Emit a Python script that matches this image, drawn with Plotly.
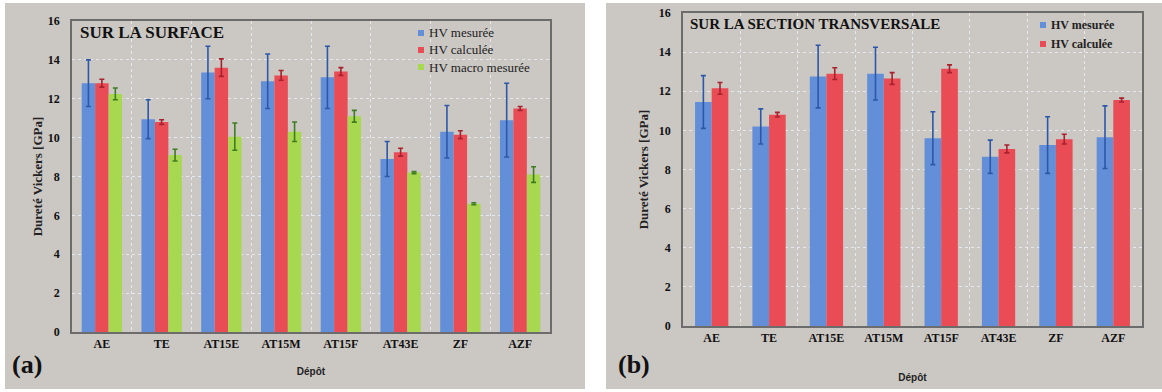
import plotly.graph_objects as go

W, H = 1162, 392

categories = ["AE", "TE", "AT15E", "AT15M", "AT15F", "AT43E", "ZF", "AZF"]

# Panel (a) : SUR LA SURFACE
a_hv_mesuree = [12.8, 10.95, 13.35, 12.9, 13.1, 8.9, 10.3, 10.9]
a_hv_mesuree_err = [1.2, 1.0, 1.35, 1.4, 1.6, 0.9, 1.35, 1.9]
a_hv_calculee = [12.8, 10.8, 13.6, 13.2, 13.4, 9.25, 10.15, 11.5]
a_hv_calculee_err = [0.2, 0.12, 0.45, 0.25, 0.2, 0.2, 0.2, 0.1]
a_hv_macro = [12.25, 9.1, 10.05, 10.3, 11.1, 8.2, 6.6, 8.1]
a_hv_macro_err = [0.3, 0.3, 0.7, 0.5, 0.3, 0.05, 0.05, 0.4]

# Panel (b) : SUR LA SECTION TRANSVERSALE
b_hv_mesuree = [11.45, 10.2, 12.75, 12.9, 9.6, 8.65, 9.25, 9.65]
b_hv_mesuree_err = [1.35, 0.9, 1.6, 1.35, 1.35, 0.85, 1.45, 1.6]
b_hv_calculee = [12.15, 10.8, 12.9, 12.65, 13.15, 9.05, 9.55, 11.55]
b_hv_calculee_err = [0.3, 0.12, 0.3, 0.3, 0.2, 0.2, 0.25, 0.1]

legend_a = ["HV mesurée", "HV calculée", "HV macro mesurée"]
legend_b = ["HV mesurée", "HV calculée"]

y_ticks = [0, 2, 4, 6, 8, 10, 12, 14, 16]

BLUE, RED, GREEN = "#628fd8", "#e94c55", "#a8d750"
EBLUE, ERED, EGREEN = "#2d58a8", "#a8222e", "#3f7d22"
SERIF = "Liberation Serif"


def px(x):
    return x / W


def py(y):
    return 1 - y / H


fig = go.Figure()


def bar(x, y, err, name, color, ecolor, xa, ya, width, offset):
    fig.add_trace(go.Bar(
        x=x, y=y, name=name, xaxis=xa, yaxis=ya, showlegend=False,
        width=width, offset=offset,
        marker=dict(color=color, line=dict(width=0)),
        error_y=dict(type="data", array=err, color=ecolor, thickness=1.6, width=2.5),
    ))


wa, wb = 0.225, 0.29
bar(categories, a_hv_mesuree, a_hv_mesuree_err, legend_a[0], BLUE, EBLUE, "x", "y", wa, -1.5 * wa)
bar(categories, a_hv_calculee, a_hv_calculee_err, legend_a[1], RED, ERED, "x", "y", wa, -0.5 * wa)
bar(categories, a_hv_macro, a_hv_macro_err, legend_a[2], GREEN, EGREEN, "x", "y", wa, 0.5 * wa)
bar(categories, b_hv_mesuree, b_hv_mesuree_err, legend_b[0], BLUE, EBLUE, "x2", "y2", wb, -wb)
bar(categories, b_hv_calculee, b_hv_calculee_err, legend_b[1], RED, ERED, "x2", "y2", wb, 0)

# plot areas (pixels)
A = dict(x0=72, x1=550, y0=21, y1=332)
B = dict(x0=683, x1=1142, y0=13, y1=326)

GRID = "#e4e8ef"
xcommon = dict(type="category", showline=True, mirror=True, linecolor="#6c6c6c", linewidth=1.6,
               ticks="", tickson="boundaries", showgrid=True, gridcolor=GRID, griddash="dot",
               automargin=False,
               tickfont=dict(family=SERIF, size=12, color="#111", weight="bold"), fixedrange=True)
ycommon = dict(range=[0, 16], tickvals=y_ticks, ticktext=[str(v) for v in y_ticks],
               showline=True, mirror=True, linecolor="#6c6c6c", linewidth=1.6, automargin=False,
               showgrid=True, gridcolor=GRID, griddash="dot", zeroline=False, ticks="",
               ticklabelstandoff=8,
               tickfont=dict(family=SERIF, size=12, color="#111", weight="bold"), fixedrange=True)

fig.update_layout(
    width=W, height=H, margin=dict(l=0, r=0, t=0, b=0, autoexpand=False),
    paper_bgcolor="white", plot_bgcolor="#fffdf6",
    barmode="group", showlegend=False,
    xaxis=dict(domain=[px(A["x0"]), px(A["x1"])], anchor="y", **xcommon,
               title=dict(text="<b>Dépôt</b>", font=dict(family="Liberation Sans", size=10, color="#222"), standoff=18)),
    yaxis=dict(domain=[py(A["y1"]), py(A["y0"])], anchor="x", **ycommon,
               title=dict(text="<b>Dureté Vickers [GPa]</b>", font=dict(family=SERIF, size=13, color="#222"), standoff=2)),
    xaxis2=dict(domain=[px(B["x0"]), px(B["x1"])], anchor="y2", **xcommon,
                title=dict(text="<b>Dépôt</b>", font=dict(family="Liberation Sans", size=10, color="#222"), standoff=30)),
    yaxis2=dict(domain=[py(B["y1"]), py(B["y0"])], anchor="x2", **ycommon,
                title=dict(text="<b>Dureté Vickers [GPa]</b>", font=dict(family=SERIF, size=13, color="#222"), standoff=7)),
)

# gray panel backgrounds
fig.add_shape(type="rect", xref="paper", yref="paper", x0=px(5), x1=px(585), y0=py(389), y1=py(3),
              fillcolor="#cbc7c3", line=dict(width=0), layer="below")
fig.add_shape(type="rect", xref="paper", yref="paper", x0=px(606), x1=px(1162), y0=py(389), y1=py(3),
              fillcolor="#cbc7c3", line=dict(width=0), layer="below")

# legends (small square swatches + text)
def legend(names, colors, x, y0, dy, size, bold):
    for i, (n, c) in enumerate(zip(names, colors)):
        yc = y0 + i * dy
        fig.add_shape(type="rect", xref="paper", yref="paper",
                      x0=px(x - 3), x1=px(x + 3), y0=py(yc + 3), y1=py(yc - 3),
                      fillcolor=c, line=dict(width=0))
        fig.add_annotation(x=px(x + 6), y=py(yc), xref="paper", yref="paper",
                           text=f"<b>{n}</b>" if bold else n, showarrow=False,
                           xanchor="left", yanchor="middle",
                           font=dict(family=SERIF, size=size, color="#222"))


legend(legend_a, [BLUE, RED, GREEN], 421, 33, 17, 13, False)
legend(legend_b, [BLUE, RED], 1043, 25, 19, 12, True)

ann = [
    dict(x=px(78), y=py(33), text="<b>SUR LA SURFACE</b>", size=17),
    dict(x=px(688), y=py(24), text="<b>SUR LA SECTION TRANSVERSALE</b>", size=15),
    dict(x=px(10), y=py(364), text="<b>(a)</b>", size=26),
    dict(x=px(616), y=py(364), text="<b>(b)</b>", size=26),
]
for a in ann:
    fig.add_annotation(x=a["x"], y=a["y"], xref="paper", yref="paper", text=a["text"],
                       showarrow=False, xanchor="left", yanchor="middle",
                       font=dict(family=SERIF, size=a["size"], color="#111"))

fig.write_html("out.html", config={"displayModeBar": False},
               post_script="document.body.style.margin='0';")
